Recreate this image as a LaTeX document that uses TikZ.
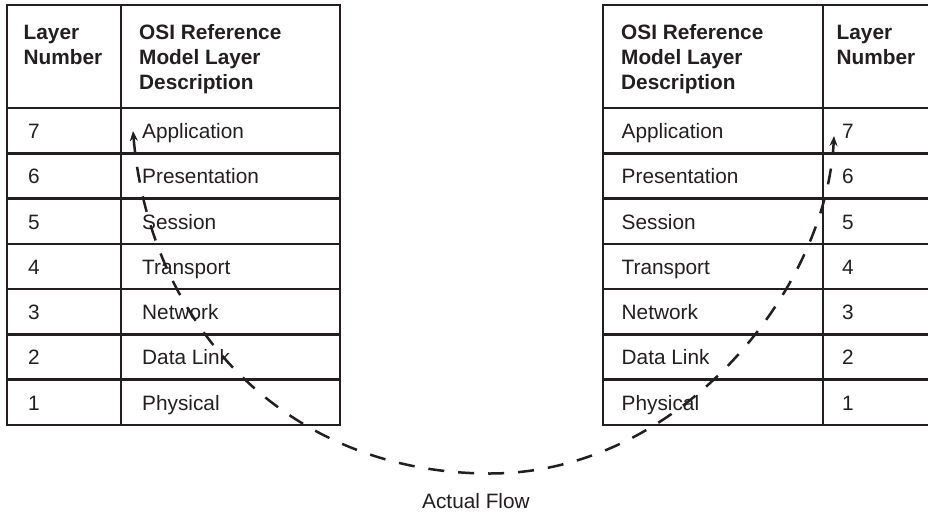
\documentclass[tikz,border=0pt]{standalone}
\usepackage{fontspec}
\setmainfont{Liberation Sans}
\usetikzlibrary{arrows.meta}
\definecolor{ink}{RGB}{35,31,32}
\begin{document}
\begin{tikzpicture}[x=1pt,y=-1pt,
  grid/.style={draw=ink,line width=2.6pt},
  txt/.style={inner sep=0pt,anchor=base west,text=ink,font=\fontsize{20.8}{24.6}\selectfont},
  hdr/.style={txt,font=\fontsize{20.8}{24.6}\selectfont\bfseries},
  flow/.style={draw=ink,line width=2.5pt,dash pattern=on 16pt off 14pt,
    {Stealth[length=10pt,width=8pt]}-{Stealth[length=10pt,width=8pt]}}]
\useasboundingbox (0,0) rectangle (928,511);
\clip (0,0) rectangle (928,511);
\fill[white] (0,0) rectangle (928,511);
% left table grid
\draw[grid] (7,5) rectangle (340,425);
\draw[grid] (121,5) -- (121,425);
% right table grid
\draw[grid] (603,5) rectangle (960,425);
\draw[grid] (823,5) -- (823,425);
\foreach \i in {0,...,6}{
  \pgfmathsetmacro{\yy}{108+45.286*\i}
  \draw[grid] (7,\yy) -- (340,\yy);
  \draw[grid] (603,\yy) -- (960,\yy);
}
% headers
\node[hdr] (lhA1) at (23.5,40) {Layer};
\node[hdr] (lhA2) at (23.5,64.5) {Number};
\node[hdr] (lhB1) at (139,40) {OSI Reference};
\node[hdr] (lhB2) at (139,64.5) {Model Layer};
\node[hdr] (lhB3) at (139,89) {Description};
\node[hdr] (rhA1) at (621,40) {OSI Reference};
\node[hdr] (rhA2) at (621,64.5) {Model Layer};
\node[hdr] (rhA3) at (621,89) {Description};
\node[hdr] (rhB1) at (836.5,40) {Layer};
\node[hdr] (rhB2) at (836.5,64.5) {Number};
% rows
\foreach \n/\name [count=\k from 0] in {7/Application,6/Presentation,5/Session,4/Transport,3/Network,2/Data Link,1/Physical}{
  \pgfmathsetmacro{\yy}{108+45.286*\k+30.5}
  \node[txt] (ln\n) at (28,\yy) {\n};
  \node[txt] (ld\n) at (142,\yy) {\name};
  \node[txt] (rd\n) at (621.5,\yy) {\name};
  \node[txt] (rn\n) at (842,\yy) {\n};
}
% flow
\coordinate (fs) at (133,131);
\coordinate (fb) at (490,473.5);
\coordinate (fe) at (834,136);
\draw[flow] (fs) .. controls (150,330) and (290,473.5) .. (fb)
  .. controls (680,473.5) and (826,290) .. (fe);
\node[txt] (lbl) at (422,508) {Actual Flow};
\end{tikzpicture}
\end{document}
